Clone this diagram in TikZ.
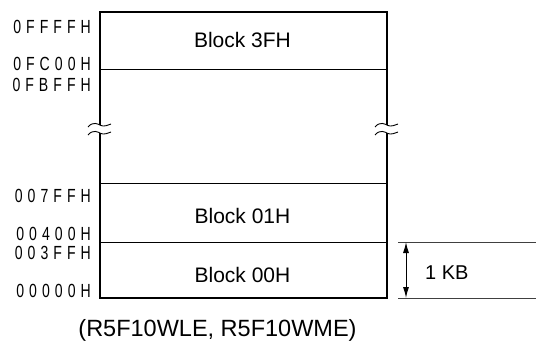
\documentclass[tikz,border=0pt]{standalone}
\usepackage{fontspec}
\setmainfont{Liberation Sans}
\newfontfamily\addrfont[FakeStretch=0.74,LetterSpace=26.5]{Liberation Sans}
\usepackage{tikz}
\usetikzlibrary{arrows.meta, positioning}

\tikzset{
  addr/.style={anchor=east, inner sep=0pt, font=\addrfont\fontsize{19}{19}\selectfont},
  blk/.style={inner sep=0pt, font=\fontsize{21}{24}\selectfont},
  wave/.style={line width=0.9pt},
}

\begin{document}
\begin{tikzpicture}[x=1pt, y=-1pt]
\useasboundingbox (0,0) rectangle (536,343);
% outline, broken on both sides
\draw[line width=2pt] (100,125) -- (100,12) -- (387,12) -- (387,125);
\draw[line width=2pt] (100,133) -- (100,298) -- (387,298) -- (387,133);
\foreach \x in {100, 387}{
  \foreach \y in {125, 133}{
    \draw[wave] (\x-12,\y+2) .. controls (\x-7,\y-4) and (\x-2,\y-1) .. (\x+1,\y+0.5)
                .. controls (\x+4,\y+2) and (\x+8,\y) .. (\x+11,\y-1);
  }
}
% block borders
\draw[line width=1pt] (100,69) -- (387,69);
\draw[line width=1pt] (100,183) -- (387,183);
\draw[line width=1pt] (100,242) -- (387,242);

\node[blk] (b3f) at (242.5,40) {Block 3FH};
\node[blk] (b01) at (242.5,215.5) {Block 01H};
\node[blk] (b00) at (242.5,274.5) {Block 00H};

\foreach \t/\y/\n in {0FFFFH/26.5/a1, 0FC00H/64/a2, 0FBFFH/84.5/a3, 007FFH/195.5/a4,
                      00400H/234/a5, 003FFH/253/a6, 00000H/290.5/a7}{
  \node[addr] (\n) at (91,\y) {\t};
}

% size of one block
\draw[line width=1pt, black!75] (398,242) -- (536,242);
\draw[line width=1pt, black!75] (398,298) -- (536,298);
\coordinate (kbtop) at (406,242);
\coordinate (kbbot) at (406,298);
\draw[line width=1pt, {Latex[length=11pt,width=6pt]}-{Latex[length=11pt,width=6pt]}] (kbtop) -- (kbbot);
\node[blk, anchor=west, font=\fontsize{20}{24}\selectfont] (kb) at (425,272.5) {1 KB};

\node[blk, font=\fontsize{23.5}{28}\selectfont] (cap) at (217.5,330) {(R5F10WLE, R5F10WME)};
\end{tikzpicture}
\end{document}
